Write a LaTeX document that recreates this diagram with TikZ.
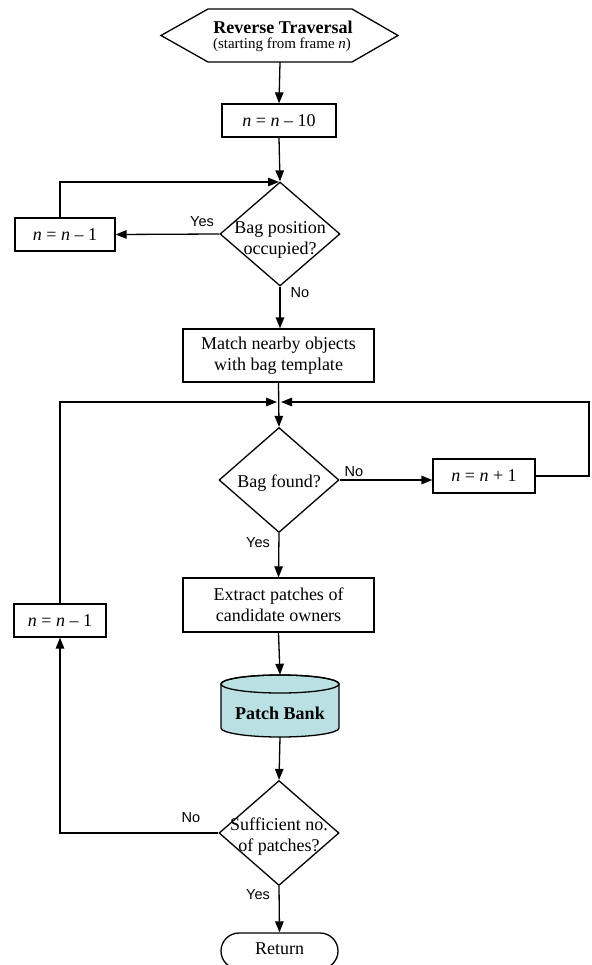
\documentclass[tikz,border=0pt]{standalone}
\usepackage{fontspec}
\setmainfont{Liberation Serif}
\newfontfamily\lsans{Liberation Sans}
\usetikzlibrary{arrows.meta,shapes.geometric}
\definecolor{bankfill}{RGB}{186,224,228}
\begin{document}
\begin{tikzpicture}[x=1pt,y=-1pt,
  conn/.style={draw,line width=1.3pt,-{Triangle[length=11pt,width=8.5pt]}},
  line/.style={draw,line width=1.3pt},
  procbox/.style={draw,line width=1.3pt,rectangle,inner sep=0pt,align=center,font=\fontsize{18}{21}\selectfont},
  decis/.style={draw,line width=1.3pt,diamond,inner sep=0pt,minimum width=120pt,minimum height=105pt},
  dtext/.style={align=center,inner sep=0pt,font=\fontsize{18}{21}\selectfont},
  lab/.style={font=\lsans\fontsize{14.5}{16}\selectfont,inner sep=0pt}
]
\useasboundingbox (0,0) rectangle (591,965);

% start hexagon
\node[rectangle,inner sep=0pt,minimum width=144pt,minimum height=53pt] (start) at (280,35.5) {};
\draw[line] (208,9) -- (352,9) -- (398,35.5) -- (352,62) -- (208,62) -- (161,35.5) -- cycle;
\node[inner sep=0pt,font=\fontsize{18}{21}\selectfont\bfseries] (starta) at (283,27) {Reverse Traversal};
\node[inner sep=0pt,font=\fontsize{15}{18}\selectfont] (startb) at (282,45) {(starting from frame \textit{n})};

\node[procbox,minimum width=114pt,minimum height=33pt] (b10) at (279,120.5) {\textit{n} = \textit{n} – 10};

\node[decis,minimum height=104pt] (d1) at (280,234) {};
\node[dtext] (d1t) at (280,240) {Bag position\\occupied?};

\node[procbox,minimum width=100pt,minimum height=33pt] (b1a) at (65,234.5) {\textit{n} = \textit{n} – 1};

\node[procbox,minimum width=191pt,minimum height=53pt] (match) at (278.5,355.5) {Match nearby objects\\with bag template};

\node[decis] (d2) at (279,480) {};
\node[dtext] (d2t) at (279,483) {Bag found?};

\node[procbox,minimum width=102pt,minimum height=34pt] (b2) at (484,476) {\textit{n} = \textit{n} + 1};

\node[procbox,minimum width=191pt,minimum height=54pt] (extract) at (278.5,605) {Extract patches of\\candidate owners};

\node[procbox,minimum width=92pt,minimum height=33pt] (b1b) at (60,620.5) {\textit{n} = \textit{n} – 1};

% patch bank cylinder
\node[rectangle,inner sep=0pt,minimum width=118pt,minimum height=62pt] (bank) at (280,706) {};
\draw[line,fill=bankfill] (221,684) -- (221,728) arc[start angle=180,end angle=360,x radius=59pt,y radius=9pt] -- (339,684) arc[start angle=0,end angle=180,x radius=59pt,y radius=9pt] -- cycle;
\draw[line] (280,684) ellipse[x radius=59pt,y radius=9pt];
\node[font=\fontsize{18}{21}\selectfont\bfseries,inner sep=0pt] (bankt) at (280,713) {Patch Bank};

\node[decis] (d3) at (279,833) {};
\node[dtext] (d3t) at (279,837) {Sufficient no.\\of patches?};

\node[procbox,rounded corners=18pt,minimum width=117pt,minimum height=36pt] (ret) at (279.5,951) {};
\node[dtext] (rett) at (279.5,949) {Return};

% connectors
\draw[conn] (start.south) -- (b10.north);
\draw[conn] (b10.south) -- (d1.north);
\coordinate (j1) at (279,182);
\draw[conn] (b1a.north -| 60,0) -- (60,182) -- (j1);
\draw[conn] (d1.west) -- (b1a.east);
\node[lab] (yes1) at (202,222) {Yes};
\draw[conn] (d1.south) -- (d1.south |- match.north);
\node[lab] (no1) at (300,293) {No};

\coordinate (jl) at (277,402);
\coordinate (jr) at (281,402);
\draw[conn] (match.south) -- (d2.north);
\draw[conn] (b1b.north) -- (60,402) -- (jl);
\draw[conn] (b2.east) -- (589,476) -- (589,402) -- (jr);
\draw[conn] (d2.east) -- (d2.east -| b2.west);
\node[lab] (no2) at (354,472) {No};
\draw[conn] (d2.south) -- (extract.north);
\node[lab] (yes2) at (258,543) {Yes};

\draw[conn] (extract.south) -- (bank.north);
\draw[conn] (bank.south) -- (d3.north);
\draw[conn] (d3.west) -- (60,833) -- (b1b.south);
\node[lab] (no3) at (191,818) {No};
\draw[conn] (d3.south) -- (ret.north);
\node[lab] (yes3) at (258,895) {Yes};
\end{tikzpicture}
\end{document}
